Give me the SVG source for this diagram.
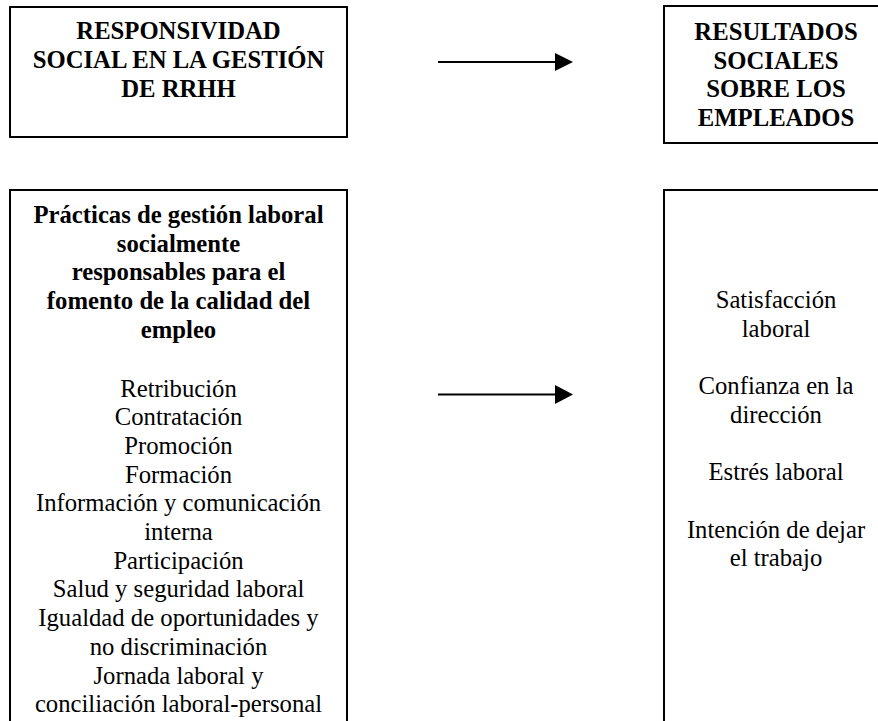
<svg xmlns="http://www.w3.org/2000/svg" width="878" height="721" viewBox="0 0 878 721">
<style>
.box{fill:#fff;stroke:#000;stroke-width:2}
.t{font-family:"Liberation Serif","Times New Roman",serif;font-size:24.7px;fill:#000;text-anchor:middle}
.b{font-weight:bold}
.conn line{stroke:#000;stroke-width:2}
.conn polygon{fill:#000}
</style>
<rect width="878" height="721" fill="#fff"/>
<g id="responsividad">
<rect class="box" x="10" y="7" width="337" height="130"/>
<text class="t b" x="178.5"><tspan x="178.5" y="39.3">RESPONSIVIDAD</tspan><tspan x="178.5" y="68">SOCIAL EN LA GESTIÓN</tspan><tspan x="178.5" y="96.7">DE RRHH</tspan></text>
</g>
<g id="resultados">
<rect class="box" x="664" y="6" width="240" height="137"/>
<text class="t b" x="776"><tspan x="776" y="40">RESULTADOS</tspan><tspan x="776" y="68.7">SOCIALES</tspan><tspan x="776" y="97.4">SOBRE LOS</tspan><tspan x="776" y="126">EMPLEADOS</tspan></text>
</g>
<g id="practicas">
<rect class="box" x="10" y="190" width="337" height="560"/>
<text class="t b"><tspan x="178.5" y="223">Prácticas de gestión laboral</tspan><tspan x="178.5" y="251.7">socialmente</tspan><tspan x="178.5" y="280.4">responsables para el</tspan><tspan x="178.5" y="309.1">fomento de la calidad del</tspan><tspan x="178.5" y="337.8">empleo</tspan></text>
<text class="t"><tspan x="178.5" y="396.5">Retribución</tspan><tspan x="178.5" y="425.2">Contratación</tspan><tspan x="178.5" y="453.9">Promoción</tspan><tspan x="178.5" y="482.6">Formación</tspan><tspan x="178.5" y="511.3">Información y comunicación</tspan><tspan x="178.5" y="540">interna</tspan><tspan x="178.5" y="568.7">Participación</tspan><tspan x="178.5" y="597.4">Salud y seguridad laboral</tspan><tspan x="178.5" y="626.1">Igualdad de oportunidades y</tspan><tspan x="178.5" y="654.8">no discriminación</tspan><tspan x="178.5" y="683.5">Jornada laboral y</tspan><tspan x="178.5" y="712.2">conciliación laboral-personal</tspan></text>
</g>
<g id="efectos">
<rect class="box" x="664" y="190" width="240" height="560"/>
<text class="t"><tspan x="776" y="308">Satisfacción</tspan><tspan x="776" y="336.7">laboral</tspan><tspan x="776" y="394.1">Confianza en la</tspan><tspan x="776" y="422.8">dirección</tspan><tspan x="776" y="480.2">Estrés laboral</tspan><tspan x="776" y="537.6">Intención de dejar</tspan><tspan x="776" y="566.3">el trabajo</tspan></text>
</g>
<g id="connectors" class="conn">
<line x1="438" y1="62" x2="556" y2="62"/>
<polygon points="555,53 573,62 555,71"/>
<line x1="438" y1="394.5" x2="556" y2="394.5"/>
<polygon points="555,385 573,394.5 555,404"/>
</g>
</svg>
